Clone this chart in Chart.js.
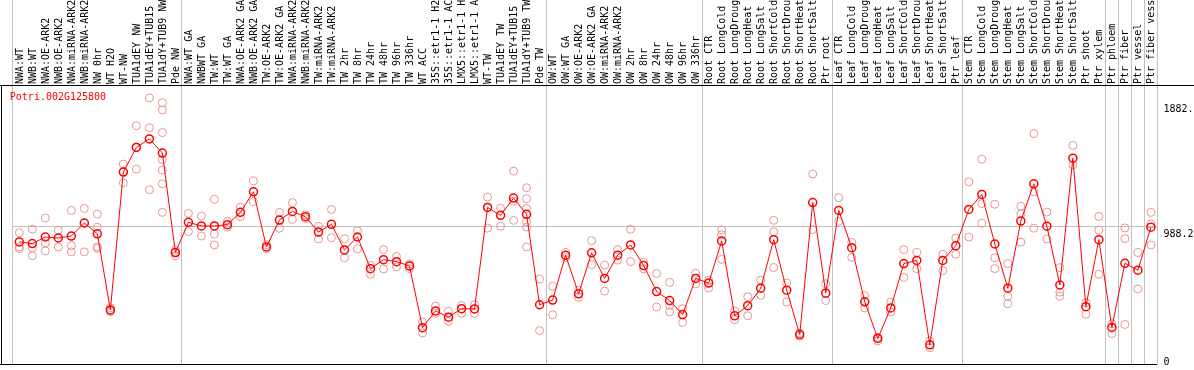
<!DOCTYPE html>
<html>
<head>
<meta charset="utf-8">
<script src="https://cdn.jsdelivr.net/npm/chart.js@4.4.1/dist/chart.umd.min.js"></script>
<style>
  html, body { margin: 0; padding: 0; background: #fff; }
</style>
</head>
<body>
<canvas id="chart" width="1194" height="370"></canvas>
<script>
const geneId = 'Potri.002G125800';

const labels = [
  'NWA:WT', 'NWB:WT', 'NWA:OE-ARK2', 'NWB:OE-ARK2', 'NWA:miRNA-ARK2', 'NWB:miRNA-ARK2',
  'NW 0hr', 'WT H2O', 'WT-NW', 'TUA1dEY NW', 'TUA1dEY+TUB15 NW', 'TUA1dY+TUB9 NW', 'Pde NW',
  'NWA:WT GA', 'NWBWT GA', 'TW:WT', 'TW:WT GA', 'NWA:OE-ARK2 GA', 'NWB:OE-ARK2 GA',
  'TW:OE-ARK2', 'TW:OE-ARK2 GA', 'NWA:miRNA-ARK2', 'NWB:miRNA-ARK2', 'TW:miRNA-ARK2',
  'TW:miRNA-ARK2', 'TW 2hr', 'TW 8hr', 'TW 24hr', 'TW 48hr', 'TW 96hr', 'TW 336hr', 'WT ACC',
  '35S::etr1-1 H2O', '35S::etr1-1 ACC', 'LMX5::etr1-1 H2O', 'LMX5::etr1-1 ACC', 'WT-TW',
  'TUA1dEY TW', 'TUA1dEY+TUB15 TW', 'TUA1dY+TUB9 TW', 'Pde TW',
  'OW:WT', 'OW:WT GA', 'OW:OE-ARK2', 'OW:OE-ARK2 GA', 'OW:miRNA-ARK2', 'OW:miRNA-ARK2',
  'OW 2hr', 'OW 8hr', 'OW 24hr', 'OW 48hr', 'OW 96hr', 'OW 336hr',
  'Root CTR', 'Root LongCold', 'Root LongDrought', 'Root LongHeat', 'Root LongSalt',
  'Root ShortCold', 'Root ShortDrought', 'Root ShortHeat', 'Root ShortSalt', 'Ptr root',
  'Leaf CTR', 'Leaf LongCold', 'Leaf LongDrought', 'Leaf LongHeat', 'Leaf LongSalt',
  'Leaf ShortCold', 'Leaf ShortDrought', 'Leaf ShortHeat', 'Leaf ShortSalt', 'Ptr leaf',
  'Stem CTR', 'Stem LongCold', 'Stem LongDrought', 'Stem LongHeat', 'Stem LongSalt',
  'Stem ShortCold', 'Stem ShortDrought', 'Stem ShortHeat', 'Stem ShortSalt', 'Ptr shoot',
  'Ptr xylem', 'Ptr phloem', 'Ptr fiber', 'Ptr vessel', 'Ptr fiber vessel'
];

const means = [
  876, 864, 911, 904, 918, 1011, 934, 390, 1375, 1551, 1612, 1511, 800,
  1016, 990, 990, 999, 1087, 1234, 840, 1032, 1094, 1056, 946, 1002, 819, 911, 685, 749,
  735, 704, 263, 383, 338, 399, 397, 1122, 1066, 1189, 1073, 427,
  460, 781, 505, 798, 615, 781, 854, 707, 521, 457, 357, 615,
  582, 883, 348, 420, 545, 892, 531, 214, 1157, 510,
  1101, 835, 448, 186, 404, 721, 744, 141, 744, 849,
  1108, 1215, 861, 545, 1025, 1291, 988, 568, 1474, 413, 892,
  265, 723, 674, 981
];

const reps = [
  [941, 840, 828], [967, 835, 777], [1047, 868, 812], [960, 840], [1101, 849, 805],
  [1115, 805], [1075, 981, 840, 830], [406, 385, 378], [1432, 1298, 1377], [1706, 1396, 1553],
  [1905, 1692, 1249], [1870, 1819, 1657, 1464, 1389, 1291, 1087], [816, 777, 800],
  [1080, 950], [1061, 918], [1180, 932, 854], [1023, 981], [1124, 1056], [1312, 1164],
  [856, 828], [1087, 974], [1157, 1037], [1070, 1042], [988, 897], [1108, 906], [899, 763],
  [955, 826], [709, 645], [821, 683], [772, 697], [718, 685], [305, 225], [418, 366],
  [380, 308], [422, 366], [427, 366], [1196, 974, 1124], [1117, 988], [1382, 1168, 1030],
  [1263, 1185, 1115, 1021, 981, 840], [610, 242],
  [559, 355], [800, 765], [479, 531], [885, 714], [711, 524], [821, 746], [967, 735],
  [730, 683], [650, 411], [587, 422, 376], [399, 301], [652, 577],
  [603, 547], [962, 927, 751], [383, 320], [484, 348], [603, 495], [1030, 948, 693],
  [582, 446], [225, 202], [1361, 964], [577, 457],
  [1192, 1023], [873, 765], [493, 404], [195, 169], [446, 376], [821, 622], [800, 685],
  [169, 120], [788, 671], [904, 788],
  [1305, 911], [1467, 1150, 1009], [1145, 763, 685], [721, 488, 434], [1131, 1075, 875],
  [1650, 1234, 974], [1089, 897], [692, 517, 488], [1565, 1427], [441, 359], [1058, 960, 645],
  [291, 221], [976, 899, 286], [800, 540], [1087, 1004, 854]
];

const yTicks = [0, 988.2, 1882.4];
// grid lines drawn before these column indexes (plus the closing one on the right)
const separators = [0, 13, 41, 53, 63, 73, 84, 85, 86, 87];

const repPoints = [];
reps.forEach((vals, i) => vals.forEach(v => repPoints.push({ x: i, y: v })));

const monoFont = { family: 'DejaVu Sans Mono', size: 10 };
const GRID = '#c0c0c0';
const NONE = 'rgba(0,0,0,0)';

const framePlugin = {
  id: 'frame',
  afterDraw(chart) {
    const { ctx, chartArea: a, width } = chart;
    ctx.save();
    ctx.fillStyle = '#000';
    ctx.fillRect(0, Math.round(a.top) - 1, width, 1);
    ctx.fillRect(1, Math.round(a.top), 1, a.bottom - a.top);
    ctx.fillRect(0, Math.round(a.bottom) - 1, Math.round(a.right), 1);
    ctx.fillStyle = '#ff0000';
    ctx.font = '10px "DejaVu Sans Mono"';
    ctx.textBaseline = 'middle';
    ctx.fillText(geneId, a.left - 3, a.top + 11);
    ctx.restore();
  }
};

new Chart(document.getElementById('chart'), {
  type: 'line',
  data: {
    labels: labels,
    datasets: [
      {
        label: geneId,
        data: means,
        borderColor: '#ff0000',
        borderWidth: 1,
        pointRadius: 4,
        pointBorderWidth: 1.5,
        pointBorderColor: '#ff0000',
        pointBackgroundColor: NONE,
        tension: 0,
        order: 1
      },
      {
        type: 'scatter',
        label: 'replicates',
        xAxisID: 'x2',
        data: repPoints,
        pointRadius: 4,
        pointBorderWidth: 1,
        borderColor: '#e89494',
        backgroundColor: NONE,
        order: 2
      }
    ]
  },
  options: {
    responsive: false,
    animation: false,
    layout: { padding: { left: 12.8, right: 0, top: 0, bottom: 1 } },
    plugins: {
      legend: { display: false },
      tooltip: { enabled: false }
    },
    scales: {
      x: {
        position: 'top',
        offset: true,
        grid: {
          offset: true,
          tickLength: 86,
          color: ctx => (ctx.type !== 'tick' || separators.includes(ctx.index)) ? GRID : NONE
        },
        border: { display: false },
        ticks: {
          autoSkip: false,
          minRotation: 90,
          maxRotation: 90,
          padding: -84,
          labelOffset: 13,
          color: '#000',
          font: monoFont
        },
        afterFit(scale) {
          scale.height = 86;
          scale.paddingLeft = 0;
          scale.paddingRight = 0;
        }
      },
      x2: {
        type: 'linear',
        axis: 'x',
        display: false,
        min: -0.5,
        max: labels.length - 0.5
      },
      y: {
        position: 'right',
        min: 0,
        max: 1990,
        afterBuildTicks(scale) {
          scale.ticks = yTicks.map(v => ({ value: v }));
        },
        grid: {
          drawTicks: false,
          color: ctx => (ctx.tick && ctx.tick.value === 988.2) ? GRID : NONE
        },
        border: { display: false },
        ticks: {
          padding: 6,
          labelOffset: 2,
          color: '#000',
          font: ctx => ({
            family: 'DejaVu Sans Mono',
            size: 10,
            lineHeight: (ctx.tick && ctx.tick.value === 0) ? 0.9 : 1.2
          }),
          callback: v => v === 0 ? ['0', ''] : ['', String(v).slice(0, 5)]
        },
        afterFit(scale) {
          scale.width = 36.6;
          scale.paddingTop = 0;
          scale.paddingBottom = 0;
        }
      }
    }
  },
  plugins: [framePlugin]
});
</script>
</body>
</html>
